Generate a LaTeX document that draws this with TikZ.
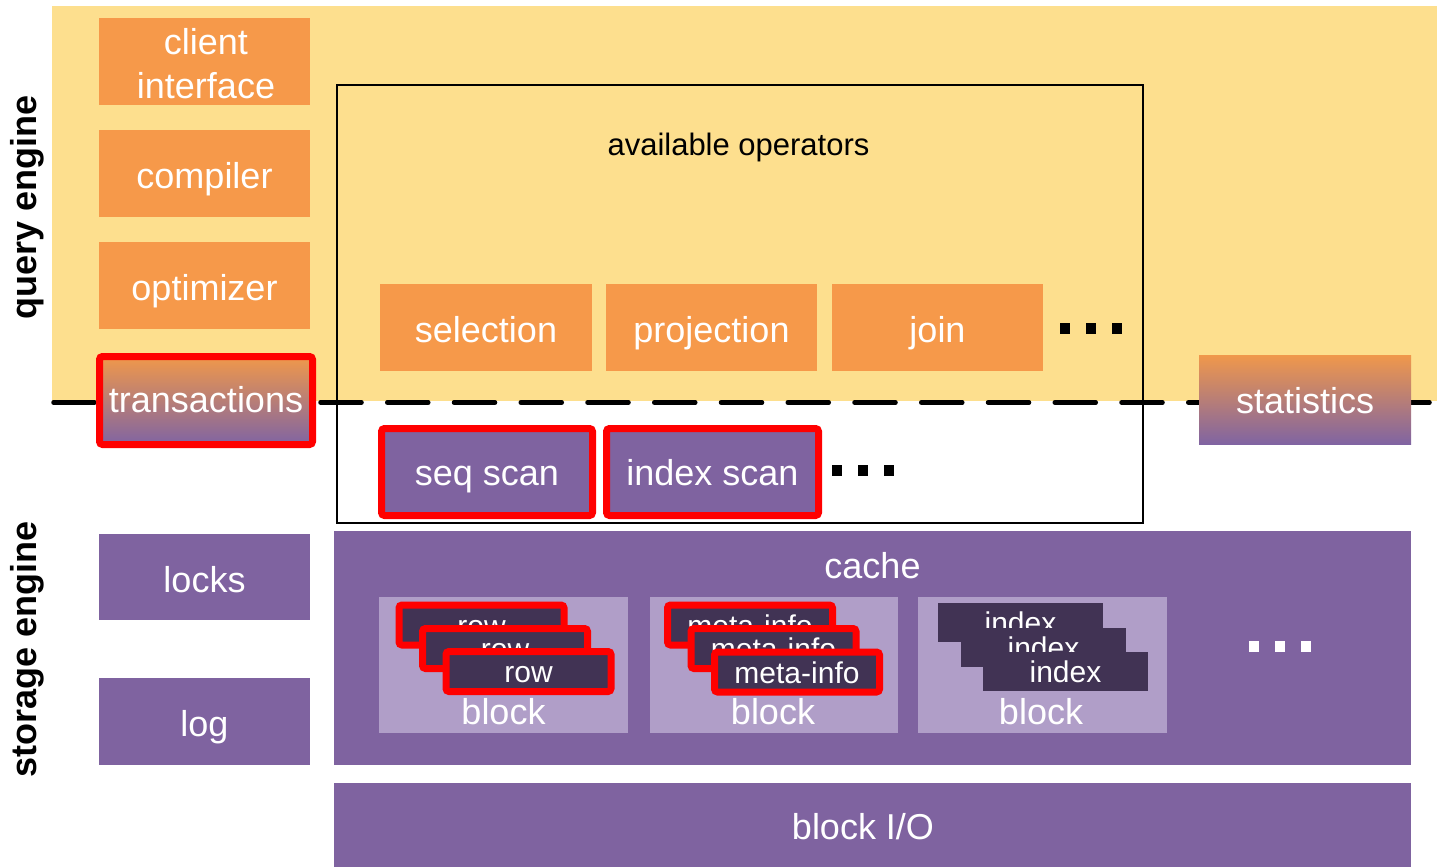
\documentclass[tikz,border=0pt]{standalone}
\usepackage{fontspec}
\setmainfont{Liberation Sans}
\definecolor{qyellow}{HTML}{FDDF8E}
\definecolor{qorange}{HTML}{F6994A}
\definecolor{qpurple}{HTML}{7F63A0}
\definecolor{qlight}{HTML}{B09EC8}
\definecolor{qdark}{HTML}{413354}
\definecolor{qgradtop}{HTML}{F0984B}
\definecolor{qgradbot}{HTML}{8064A2}
\begin{document}
\begin{tikzpicture}[x=1pt,y=-1pt,
  big/.style={font=\fontsize{36}{43}\selectfont, text=white, text height=30pt, text depth=0pt},
  mid/.style={font=\fontsize{30}{36}\selectfont, text=white, text height=22.5pt, text depth=0pt},
  obox/.style={big, fill=qorange, inner sep=0pt, minimum width=211pt, minimum height=87pt},
  pbox/.style={big, fill=qpurple, inner sep=0pt, minimum width=211pt, minimum height=87pt},
  gbox/.style={big, top color=qgradtop, bottom color=qgradbot, inner sep=0pt},
  redline/.style={draw=red, line width=7pt, rounded corners=3pt},
  blockbox/.style={fill=qlight, inner sep=0pt, minimum width=249pt, minimum height=136pt},
  rowbox/.style={mid, redline, fill=qdark, inner sep=0pt, minimum width=165pt, minimum height=40pt},
  idxbox/.style={mid, fill=qdark, inner sep=0pt, minimum width=165pt, minimum height=39pt},
  lbl/.style={font=\fontsize{36}{43}\selectfont, text=white, anchor=base, inner sep=0pt},
  sidelbl/.style={font=\bfseries\fontsize{36}{43}\selectfont, rotate=90, anchor=base, inner sep=0pt},
  dotb/.style={fill=black, inner sep=0pt, minimum width=10pt, minimum height=11pt},
  dotw/.style={fill=white, inner sep=0pt, minimum width=10pt, minimum height=11pt}
]
\useasboundingbox (0,0) rectangle (1437,867);
% query engine background
\fill[qyellow] (52,6) rectangle (1437,401);
\coordinate (dl) at (53.5,402.5);
\coordinate (dr) at (1437,402.5);
\draw[line width=4.5pt, line cap=round, dash pattern=on 41pt off 25.75pt] (dl) -- (dr);

% side labels
\node[sidelbl] (qe) at (36,207) {query engine};
\node[sidelbl] (se) at (36,649) {storage engine};

% left column
\node[obox] (client) at (204.5,61.5) {};
\node[lbl] (clientA) at (206,55) {client};
\node[lbl] (clientB) at (206,99) {interface};
\node[obox] (compiler) at (204.5,173.5) {compiler};
\node[obox] (optimizer) at (204.5,285.5) {optimizer};
\node[gbox, redline, text height=24pt, minimum width=213pt, minimum height=88pt] (trans) at (206,400.5) {transactions};
\node[pbox, minimum height=86pt] (locks) at (204.5,577) {locks};
\node[pbox] (log) at (204.5,721.5) {log};

% available operators
\node[draw=black, line width=2pt, inner sep=0pt, minimum width=806pt, minimum height=438pt] (ops) at (740,304) {};
\node[font=\fontsize{31}{37}\selectfont, anchor=base, inner sep=0pt] (opslbl) at (738.5,155) {available operators};
\node[obox, minimum width=212pt] (sel) at (486,327.5) {selection};
\node[obox] (proj) at (711.5,327.5) {projection};
\node[obox] (join) at (937.5,327.5) {join};
\node[dotb] (d1) at (1065,328.5) {};
\node[dotb] (d2) at (1091,328.5) {};
\node[dotb] (d3) at (1117,328.5) {};
\node[pbox, redline, text height=26pt] (seq) at (487,472) {seq scan};
\node[pbox, redline, text height=26pt, minimum width=212pt] (idx) at (712.5,472) {index scan};
\node[dotb] (d4) at (837,470.5) {};
\node[dotb] (d5) at (863,470.5) {};
\node[dotb] (d6) at (889,470.5) {};

% statistics
\node[gbox, text height=28pt, minimum width=212pt, minimum height=89pt] (stats) at (1305,399.5) {statistics};

% cache
\node[fill=qpurple, inner sep=0pt, minimum width=1077pt, minimum height=234pt] (cache) at (872.5,648) {};
\node[lbl] (cachelbl) at (872.5,578) {cache};
\node[blockbox] (b1) at (503.5,665) {};
\node[blockbox, minimum width=248pt] (b2) at (774,665) {};
\node[blockbox] (b3) at (1042.5,665) {};
\node[rowbox] (r1) at (481.5,625) {row};
\node[rowbox] (r2) at (505,648.5) {row};
\node[rowbox] (r3) at (528.5,671.5) {row};
\node[lbl] (b1lbl) at (503.5,724) {block};
\node[rowbox] (m1) at (750,625) {meta-info};
\node[rowbox] (m2) at (773.5,648.5) {meta-info};
\node[rowbox] (m3) at (797,672) {meta-info};
\node[lbl] (b2lbl) at (773,724) {block};
\node[idxbox] (i1) at (1020.5,622.5) {index};
\node[idxbox] (i2) at (1043.5,647) {index};
\node[idxbox] (i3) at (1065.5,671.5) {index};
\node[lbl] (b3lbl) at (1041,724) {block};
\node[dotw] (d7) at (1254,646.5) {};
\node[dotw] (d8) at (1280,646.5) {};
\node[dotw] (d9) at (1306,646.5) {};

% block I/O
\node[fill=qpurple, inner sep=0pt, minimum width=1077pt, minimum height=84pt] (bio) at (872.5,825) {};
\node[lbl] (biolbl) at (863,839) {block I/O};
\end{tikzpicture}
\end{document}
